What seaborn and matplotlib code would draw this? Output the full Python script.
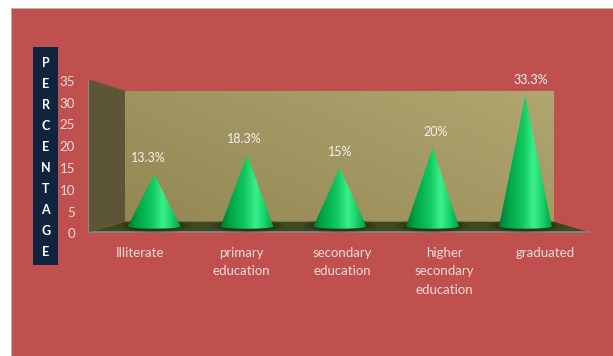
import numpy as np
import pandas as pd
import matplotlib
matplotlib.use("Agg")
import matplotlib.pyplot as plt
import seaborn as sns
from matplotlib.patches import Polygon, Rectangle, Ellipse
from matplotlib.colors import LinearSegmentedColormap, to_rgb

# ---- data -------------------------------------------------------------
categories = ["Illiterate", "primary\neducation", "secondary\neducation",
              "higher\nsecondary\neducation", "graduated"]
percentages = [13.3, 18.3, 15.0, 20.0, 33.3]
value_labels = ["13.3%", "18.3%", "15%", "20%", "33.3%"]
y_ticks = [0, 5, 10, 15, 20, 25, 30, 35]
axis_title = "PERCENTAGE"

# ---- style ------------------------------------------------------------
sns.set_theme(style="white")
plt.rcParams["font.family"] = ["Lato", "DejaVu Sans"]

PANEL = "#C0504D"
TEXT = "#F2DCDB"
NAVY = "#10243F"

W, H = 613, 356
fig = plt.figure(figsize=(W / 100, H / 100), dpi=100)
fig.patch.set_facecolor("white")


def px_box(x0, y0, x1, y1):
    """Pixel box (top-left origin) -> figure-fraction rect."""
    return [x0 / W, 1 - y1 / H, (x1 - x0) / W, (y1 - y0) / H]


# red chart panel
fig.patches.append(Rectangle((11 / W, 0), 1 - 11 / W, 1 - 8 / H,
                             transform=fig.transFigure, facecolor=PANEL,
                             edgecolor="#B5B5B5", lw=0.6, zorder=0))

# vertical axis title in a navy box, one letter per row
fig.patches.append(Rectangle((33.3 / W, 1 - 265 / H), 25 / W, 218.3 / H,
                             transform=fig.transFigure, facecolor=NAVY,
                             edgecolor="none", zorder=1))
for i, ch in enumerate(axis_title):
    fig.text(45.8 / W, 1 - (62.7 + 21.03 * i) / H, ch, ha="center",
             va="center", fontsize=9, fontweight="bold", color="white")

# ---- front plane axis: tick labels ------------------------------------
ax_front = fig.add_axes(px_box(80, 60, 600, 233.3))
ax_front.set_facecolor("none")
ax_front.set_zorder(1)
ax_front.set_xlim(-0.587, 4.536)
ax_front.set_ylim(0, 39.75)
ax_front.set_yticks(y_ticks)
ax_front.set_yticklabels([str(t) for t in y_ticks])
ax_front.set_xticks(range(len(categories)))
ax_front.set_xticklabels(categories)
ax_front.tick_params(length=0, colors=TEXT, labelsize=9.5)
ax_front.tick_params(axis="y", pad=3.6)
ax_front.tick_params(axis="x", pad=10)
for s in ax_front.spines.values():
    s.set_visible(False)
for t in ax_front.get_xticklabels():
    t.set_linespacing(1.62)

# ---- plot area: walls + cones -----------------------------------------
ax = fig.add_axes(px_box(80, 60, 600, 240))
ax.set_zorder(2)
df = pd.DataFrame({"level": categories, "pct": percentages})
sns.barplot(data=df, x="level", y="pct", ax=ax, width=0.57,
            errorbar=None, color="#00B050")
ax.axis("off")

# simple perspective: back plane points pushed out to the front plane
Xc, Yc, K = 2.0, 17.23, 1.171


def front(x, y):
    return Xc + K * (x - Xc), Yc + K * (y - Yc)


bx0, bx1, by0, by1 = -0.315, 4.303, 1.22, 34.55

# back wall with a soft diagonal gradient
n = 64
u, v = np.meshgrid(np.linspace(0, 1, n), np.linspace(0, 1, n))
tt = (0.6 * u + 0.4 * v)[..., None]
c0, c1 = np.array(to_rgb("#938853")), np.array(to_rgb("#B1A670"))
wall_img = c0 * (1 - tt) + c1 * tt
ax.imshow(wall_img, extent=(bx0, bx1, by0, by1), origin="lower",
          aspect="auto", zorder=1, interpolation="bilinear")

# floor
fl0, fl1 = front(bx0, by0), front(bx1, by0)
ax.add_patch(Polygon([(bx0, by0), (bx1, by0), fl1, fl0], closed=True,
                     facecolor="#3E4822", edgecolor="none", zorder=2))
ax.plot([fl0[0], fl1[0]], [fl0[1], fl1[1]], color="#8A8A8A", lw=1.2,
        zorder=2.1, solid_capstyle="butt")

# left side wall
lt = front(bx0, by1)
ax.add_patch(Polygon([(bx0, by0), (bx0, by1), lt, fl0], closed=True,
                     facecolor="#5D5636", edgecolor="none", zorder=2.2))
ax.plot([fl0[0], lt[0]], [fl0[1], lt[1]], color="#8A8A8A", lw=0.8, zorder=2.3)

# cones built from the bar geometry
cone_cmap = LinearSegmentedColormap.from_list(
    "cone", [(0.0, "#007A33"), (0.18, "#00A548"), (0.45, "#10C85E"),
             (0.66, "#3CF08C"), (0.8, "#1ED86E"), (1.0, "#00A04A")])
grad = np.linspace(0, 1, 256).reshape(1, -1)
base_b = 0.55
theta = np.linspace(np.pi, 2 * np.pi, 60)

for bar, label in zip(ax.patches, value_labels):
    cx = bar.get_x() + bar.get_width() / 2
    hw = bar.get_width() / 2
    h = bar.get_height()
    bar.set_visible(False)

    # soft shadow on the floor
    for s, a in [(1.4, 0.12), (1.25, 0.18), (1.1, 0.28)]:
        ax.add_patch(Ellipse((cx, 0.2), 2 * hw * s, 2.6 * s, color="#20260C",
                             alpha=a, lw=0, zorder=3))

    outline = [(cx, h)] + list(zip(cx + hw * np.cos(theta),
                                   base_b * np.sin(theta)))
    poly = Polygon(outline, closed=True, facecolor="none",
                   edgecolor="none", zorder=4)
    ax.add_patch(poly)
    im = ax.imshow(grad, cmap=cone_cmap, extent=(cx - hw, cx + hw, -base_b, h),
                   aspect="auto", zorder=4, interpolation="bilinear")
    im.set_clip_path(poly)

    lx = Xc + 1.03 * (cx - Xc)
    ax.annotate(label, (lx, h), xytext=(0, 11.5), textcoords="offset points",
                ha="center", va="center", fontsize=9, color="#F5F0F0",
                zorder=5)

ax.set_xlim(-0.7996, 4.804)
ax.set_ylim(-3.435, 42.37)

fig.savefig("out.png", dpi=100, facecolor=fig.get_facecolor())
